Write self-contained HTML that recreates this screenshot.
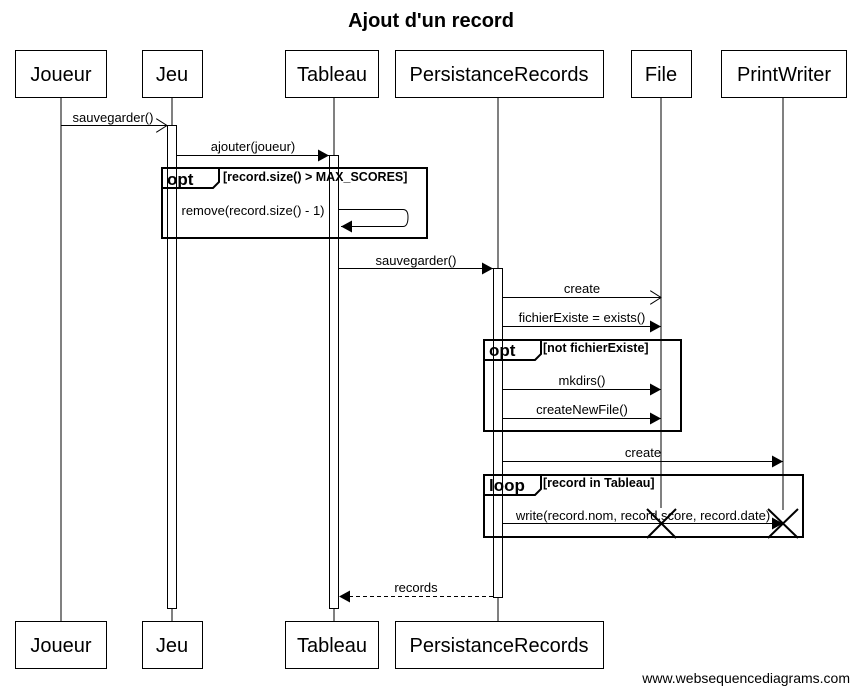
<!DOCTYPE html>
<html><head><meta charset="utf-8"><style>body{margin:0;background:#fff}svg{display:block}text{font-family:"Liberation Sans",sans-serif;fill:#000}</style></head><body>
<svg width="860" height="693" viewBox="0 0 860 693" xmlns="http://www.w3.org/2000/svg">
<defs>
<marker id="f" markerWidth="12" markerHeight="12" refX="11" refY="6" orient="auto" markerUnits="userSpaceOnUse"><path d="M0,0 L11,6 L0,12 z" fill="#000"/></marker>
<marker id="o" markerWidth="12" markerHeight="14" refX="11" refY="7" orient="auto" markerUnits="userSpaceOnUse"><path d="M0,0 L11,7 L0,14" fill="none" stroke="#000"/></marker>
</defs>
<text x="431" y="27" font-size="20" font-weight="bold" text-anchor="middle">Ajout d'un record</text>
<g stroke="#000" stroke-width="1" fill="none">
<line x1="61" y1="97" x2="61" y2="621"/>
<line x1="172" y1="97" x2="172" y2="621"/>
<line x1="334" y1="97" x2="334" y2="621"/>
<line x1="498" y1="97" x2="498" y2="621"/>
<line x1="661" y1="97" x2="661" y2="508"/>
<line x1="783" y1="97" x2="783" y2="510"/>
</g>
<g stroke="#000" fill="#fff">
<rect x="15.5" y="50.5" width="91" height="47"/><rect x="142.5" y="50.5" width="60" height="47"/>
<rect x="285.5" y="50.5" width="93" height="47"/><rect x="395.5" y="50.5" width="208" height="47"/>
<rect x="631.5" y="50.5" width="60" height="47"/><rect x="721.5" y="50.5" width="125" height="47"/>
<rect x="15.5" y="621.5" width="91" height="47"/><rect x="142.5" y="621.5" width="60" height="47"/>
<rect x="285.5" y="621.5" width="93" height="47"/><rect x="395.5" y="621.5" width="208" height="47"/>
<rect x="167.5" y="125.5" width="9" height="483"/>
<rect x="329.5" y="155.5" width="9" height="453"/>
<rect x="493.5" y="268.5" width="9" height="329"/>
</g>
<g font-size="20" text-anchor="middle">
<text x="61" y="81">Joueur</text><text x="172" y="81">Jeu</text><text x="332" y="81">Tableau</text>
<text x="499" y="81">PersistanceRecords</text><text x="661" y="81">File</text><text x="784" y="81">PrintWriter</text>
<text x="61" y="652">Joueur</text><text x="172" y="652">Jeu</text><text x="332" y="652">Tableau</text>
<text x="499" y="652">PersistanceRecords</text>
</g>
<g stroke="#000" fill="none">
<line x1="61" y1="125.5" x2="167" y2="125.5" marker-end="url(#o)"/>
<line x1="177" y1="155.5" x2="329" y2="155.5" marker-end="url(#f)"/>
<path d="M339,209.5 H403 Q408,209.5 408,217 Q408,226.5 403,226.5 H341" marker-end="url(#f)"/>
<line x1="339" y1="268.5" x2="493" y2="268.5" marker-end="url(#f)"/>
<line x1="503" y1="297.5" x2="661" y2="297.5" marker-end="url(#o)"/>
<line x1="503" y1="326.5" x2="661" y2="326.5" marker-end="url(#f)"/>
<line x1="503" y1="389.5" x2="661" y2="389.5" marker-end="url(#f)"/>
<line x1="503" y1="418.5" x2="661" y2="418.5" marker-end="url(#f)"/>
<line x1="503" y1="461.5" x2="783" y2="461.5" marker-end="url(#f)"/>
<line x1="503" y1="523.5" x2="783" y2="523.5" marker-end="url(#f)"/>
<line x1="493" y1="596.5" x2="339" y2="596.5" stroke-dasharray="4,3" marker-end="url(#f)"/>
<path d="M647,509 L676,538 M676,509 L647,538 M768,509 L798,538 M798,509 L768,538" stroke-width="2"/>
<g stroke-width="2">
<rect x="162" y="168" width="265" height="70"/><path d="M162,188 H213 L219,182 V168"/>
<rect x="484" y="340" width="197" height="91"/><path d="M484,360 H535 L541,354 V340"/>
<rect x="484" y="475" width="319" height="62"/><path d="M484,495 H535 L541,489 V475"/>
</g>
</g>
<g font-size="13" text-anchor="middle">
<text x="113" y="122">sauvegarder()</text>
<text x="253" y="151">ajouter(joueur)</text>
<text x="253" y="215">remove(record.size() - 1)</text>
<text x="416" y="265">sauvegarder()</text>
<text x="582" y="293">create</text>
<text x="582" y="322">fichierExiste = exists()</text>
<text x="582" y="385">mkdirs()</text>
<text x="582" y="414">createNewFile()</text>
<text x="643" y="457">create</text>
<text x="643" y="520">write(record.nom, record.score, record.date)</text>
<text x="416" y="592">records</text>
</g>
<g font-weight="bold">
<text x="167" y="185" font-size="17">opt</text><text x="223" y="181" font-size="12.5">[record.size() &gt; MAX_SCORES]</text>
<text x="489" y="356" font-size="17">opt</text><text x="543" y="352" font-size="12.5">[not fichierExiste]</text>
<text x="489" y="491" font-size="17">loop</text><text x="543" y="487" font-size="12.5">[record in Tableau]</text>
</g>
<text x="850" y="683" font-size="14" text-anchor="end">www.websequencediagrams.com</text>
</svg>
</body></html>
